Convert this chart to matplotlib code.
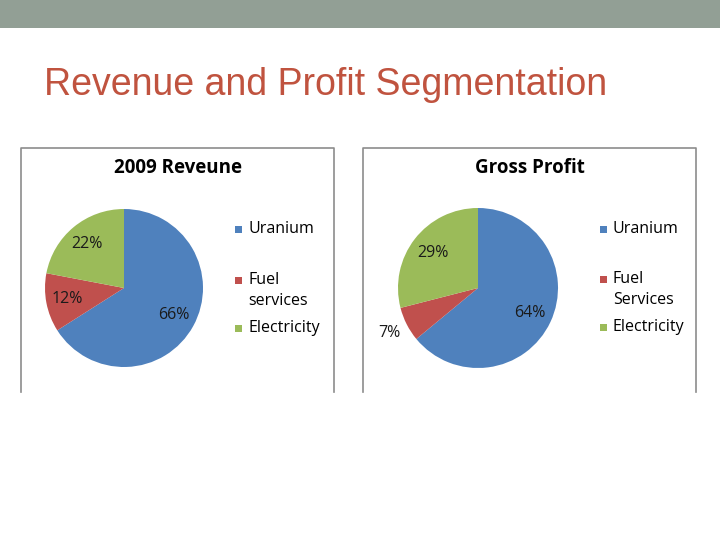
import matplotlib
matplotlib.use("Agg")
import matplotlib.pyplot as plt
from matplotlib.patches import Rectangle
import numpy as np

# data
categories_rev = ["Uranium", "Fuel\nservices", "Electricity"]
revenue_pct = [66, 12, 22]
categories_gp = ["Uranium", "Fuel\nServices", "Electricity"]
profit_pct = [64, 7, 29]
colors = ["#4F81BD", "#C0504D", "#9BBB59"]

W, H = 720, 540
fig = plt.figure(figsize=(7.2, 5.4), dpi=100)

# overlay axes in pixel coords (y down)
bg = fig.add_axes([0, 0, 1, 1])
bg.set_xlim(0, W)
bg.set_ylim(H, 0)
bg.axis("off")

# top band
bg.add_patch(Rectangle((0, 0), W, 28, color="#929F95", lw=0))
bg.text(44, 85, "Revenue and Profit Segmentation", fontsize=27,
        family="Liberation Sans", color="#C0533F", va="center", ha="left")

FONT = "Open Sans"


def chart_box(x0, x1, y0, y1):
    bg.plot([x0, x0, x1, x1], [y1, y0, y0, y1], color="#8C8C8C", lw=1.2)


def draw_pie(rect, vals, pctdist):
    # rect in pixels: left, top, width, height
    l, t, w, h = rect
    ax = fig.add_axes([l / W, 1 - (t + h) / H, w / W, h / H])
    wedges, _, autotexts = ax.pie(vals, colors=colors, startangle=90,
                                  counterclock=False, autopct="%d%%",
                                  pctdistance=0.72, radius=1,
                                  wedgeprops=dict(lw=0),
                                  textprops=dict(fontsize=11.5, family=FONT,
                                                 color="#1a1a1a"))
    ax.set_xlim(-1, 1)
    ax.set_ylim(-1, 1)
    ax.set_aspect("equal")
    for wdg, txt, d in zip(wedges, autotexts, pctdist):
        ang = np.deg2rad((wdg.theta1 + wdg.theta2) / 2)
        txt.set_position((d * np.cos(ang), d * np.sin(ang)))
    return ax


def legend(x, ys, labels):
    for y, lab, c in zip(ys, labels, colors):
        bg.add_patch(Rectangle((x, y - 3.5), 7, 7, color=c, lw=0))
        bg.text(x + 13, y - 8, lab, fontsize=11.5, family=FONT, va="top",
                ha="left", linespacing=1.4)


# left chart
chart_box(21, 334, 148, 392)
bg.text(178, 168, "2009 Reveune", fontsize=13.5, family=FONT,
        fontweight="bold", ha="center", va="center")
draw_pie((45, 209, 158, 158), revenue_pct, [0.72, 0.73, 0.73])
legend(235, [229, 280, 328], categories_rev)

# right chart
chart_box(363, 696, 148, 392)
bg.text(530, 168, "Gross Profit", fontsize=13.5, family=FONT,
        fontweight="bold", ha="center", va="center")
draw_pie((398, 208, 160, 160), profit_pct, [0.72, 1.25, 0.72])
legend(600, [229, 279, 327], categories_gp)

fig.savefig("out.png", dpi=100)
